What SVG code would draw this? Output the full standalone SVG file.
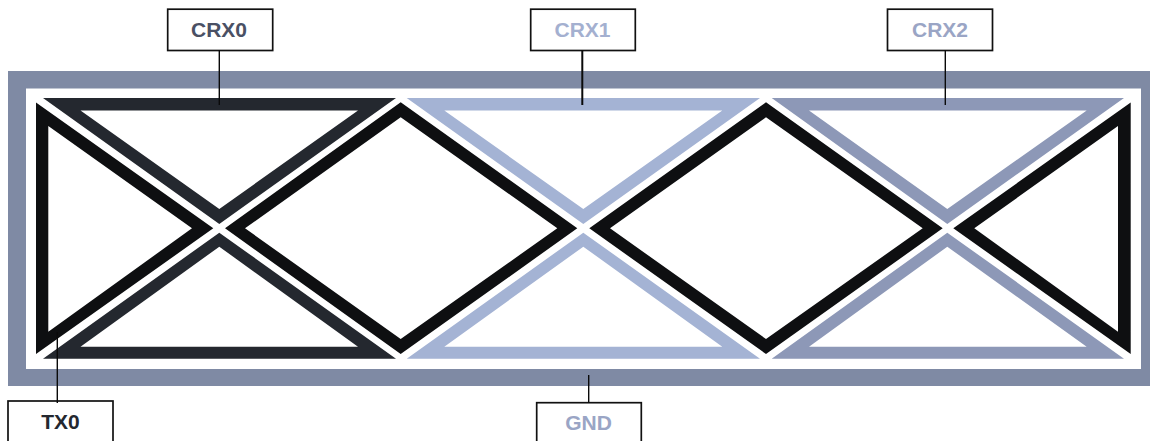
<svg xmlns="http://www.w3.org/2000/svg" width="1150" height="441" viewBox="0 0 1150 441">
<style>
.s{fill-rule:evenodd}
.frame{fill:#7f8aa4}
.tx{fill:#0e0f11}
.c0{fill:#24282f}
.c1{fill:#a4b3d4}
.c2{fill:#8d98b7}
.box{fill:#fff;stroke:#111;stroke-width:1.7}
.lab{font-family:"Liberation Sans",Arial,sans-serif;font-weight:bold;font-size:21px;text-anchor:middle}
.con{stroke:#0a0a0a;stroke-width:1.4;fill:none}
</style>
<rect width="1150" height="441" fill="#fff"/>
<g id="gnd-frame"><path class="frame s" d="M8 71H1150V386H8ZM26 88.5V369H1141V88.5Z"/></g>
<g id="crx0-top"><path class="c0 s" d="M43 98H396L219.3 224ZM80.5 110.5L219.3 209L358 110.5Z"/></g>
<g id="crx0-bottom"><path class="c0 s" d="M43 358.7H396L219.3 232.7ZM80.5 346.7L219.3 246.7L358 346.7Z"/></g>
<g id="crx1-top"><path class="c1 s" d="M406.7 98H760L583.3 224ZM444.3 110.5L583.3 209L722.3 110.5Z"/></g>
<g id="crx1-bottom"><path class="c1 s" d="M406.7 358.7H760L583.3 232.7ZM444.3 346.7L583.3 246.7L722.3 346.7Z"/></g>
<g id="crx2-top"><path class="c2 s" d="M771.7 98H1124L947.3 224ZM809 110.5L947.3 209L1086.7 110.5Z"/></g>
<g id="crx2-bottom"><path class="c2 s" d="M771.7 358.7H1124L947.3 232.7ZM809 346.7L947.3 246.7L1086.7 346.7Z"/></g>
<g id="tx0-left"><path class="tx s" d="M36 102.5L213.3 228.3L36 354ZM48.3 126V331.7L192 228.3Z"/></g>
<g id="tx0-diamond1"><path class="tx s" d="M225 228.3L400.7 102.3L577.3 228.3L400.7 354ZM245 228.3L400.7 339L557.3 228.3L400.7 117.3Z"/></g>
<g id="tx0-diamond2"><path class="tx s" d="M589.3 228.3L766 102.3L942.7 228.3L766 354ZM610 228.3L766 339L922.7 228.3L766 117.3Z"/></g>
<g id="tx0-right"><path class="tx s" d="M953.3 228.3L1130.7 102.5V354ZM974.3 228.3L1118 331.7V126Z"/></g>
<g id="label-crx0"><rect class="box" x="167.7" y="9.2" width="105" height="41.3"/><text class="lab" x="219" y="37" fill="#4a5064">CRX0</text></g>
<g id="label-crx1"><rect class="box" x="530.7" y="9.2" width="104.6" height="41.3"/><text class="lab" x="582.500" y="37" fill="#a4b0d0">CRX1</text></g>
<g id="label-crx2"><rect class="box" x="887.5" y="9.2" width="105" height="41.3"/><text class="lab" x="940" y="37" fill="#9aa5c5">CRX2</text></g>
<g id="label-tx0"><rect class="box" x="8" y="401" width="105" height="50"/><text class="lab" x="60.500" y="428.500" fill="#24282f">TX0</text></g>
<g id="label-gnd"><rect class="box" x="536.700" y="402.700" width="104.600" height="50"/><text class="lab" x="588.500" y="430" fill="#9aa5c5">GND</text></g>
<g id="connectors">
<path class="con" d="M219.300 50V105"/>
<path class="con" d="M582.300 50V105" style="stroke-width:2"/>
<path class="con" d="M945.300 50V105"/>
<path class="con" d="M57.300 332V403"/>
<path class="con" d="M588.700 375V403"/>
</g>
</svg>
